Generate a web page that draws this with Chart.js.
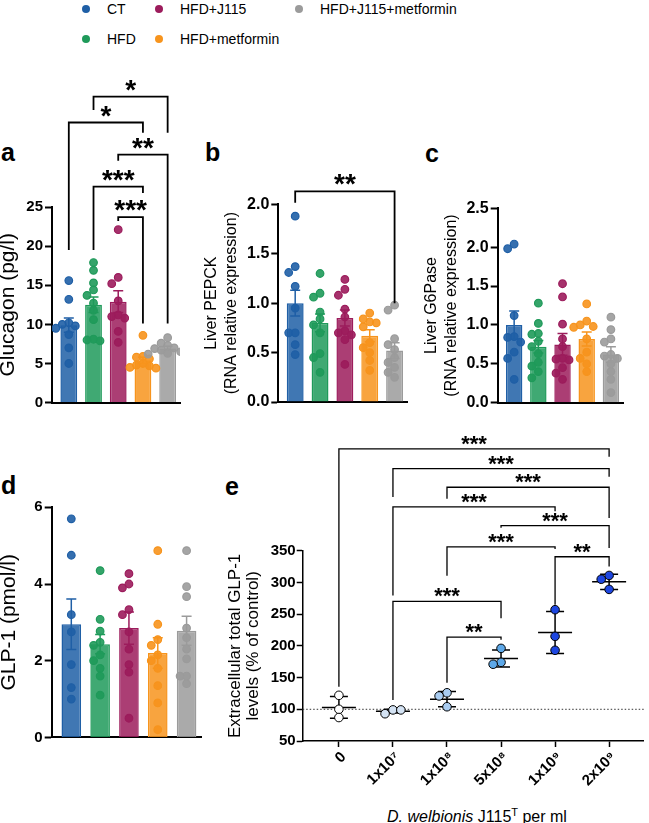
<!DOCTYPE html>
<html>
<head>
<meta charset="utf-8">
<script src="https://cdn.jsdelivr.net/npm/chart.js@4.4.1/dist/chart.umd.min.js"></script>
<style>
  body { margin: 0; background: #fff; width: 649px; height: 823px; position: relative; overflow: hidden;
         font-family: "Liberation Sans", Arial, sans-serif; color: #000; }
  .lab { position: absolute; font-weight: bold; font-size: 25px; line-height: 25px; }
  .lg { position: absolute; font-size: 14px; line-height: 16px; white-space: nowrap; }
  .dot { position: absolute; width: 8px; height: 8px; border-radius: 50%; }
  .xt { position: absolute; font-size: 16px; line-height: 18px; width: 260px; text-align: center; }
  .xl { position: absolute; width: 70px; height: 16px; line-height: 16px; font-size: 15px; font-weight: bold;
        text-align: right; white-space: nowrap; transform-origin: 100% 50%; transform: rotate(-45deg); }
</style>
</head>
<body>
<div class="lab" style="left:1px;top:140px">a</div>
<div class="lab" style="left:205px;top:140px">b</div>
<div class="lab" style="left:425px;top:141px">c</div>
<div class="lab" style="left:1px;top:473px">d</div>
<div class="lab" style="left:225px;top:474px">e</div>
<div class="xt" style="left:347px;top:803px"><i>D. welbionis</i> J115<sup style="font-size:11px">T</sup> per ml</div>

<script>
// groupes et couleurs
const groups = ['CT', 'HFD', 'HFD+J115', 'HFD+metformin', 'HFD+J115+metformin'];
const groupColors = ['#1f5fa6', '#1f9a5a', '#9c1c5c', '#f7941d', '#9b9b9b'];

// a - glucagon (pg/l)
const glucagonMean = [9.9, 12.5, 12.9, 5.4, 6.9];
const glucagonSem = [0.9, 1.0, 1.4, 0.4, 0.3];
const glucagonPts = [
  [15.6, 13.2, 10.2, 10.0, 9.8, 9.5, 8.7, 7.0, 5.0],
  [17.9, 16.9, 15.3, 14.4, 13.7, 12.7, 11.8, 10.6, 8.1, 8.0, 7.9],
  [22.1, 16.0, 15.2, 13.0, 11.2, 11.0, 10.8, 9.1, 7.7],
  [8.6, 5.9, 5.8, 5.6, 5.0, 4.8, 4.7, 4.5, 4.4],
  [8.3, 7.6, 7.3, 7.0, 6.9, 6.7, 6.5, 6.3, 6.2]
];
// [de, a, niveau, bout gauche, bout droit, texte]
const glucagonSig = [
  [1, 4, 39.1, 37.4, 34.5, '*'],
  [0, 3, 35.8, 19.5, 34.5, '*'],
  [2, 4, 31.7, 30.9, 10.1, '**'],
  [1, 3, 27.6, 19.5, 26.8, '***'],
  [2, 3, 23.7, 23.2, 10.1, '***']
];

// b - PEPCK
const pepckMean = [1.0, 0.8, 0.85, 0.67, 0.52];
const pepckSem = [0.13, 0.09, 0.08, 0.06, 0.08];
const pepckPts = [
  [1.88, 1.37, 1.31, 1.17, 0.95, 0.70, 0.70, 0.58, 0.48],
  [1.30, 1.10, 1.06, 0.91, 0.84, 0.78, 0.70, 0.49, 0.45, 0.30],
  [1.24, 1.14, 1.08, 0.94, 0.86, 0.72, 0.70, 0.68, 0.63, 0.38],
  [0.90, 0.84, 0.81, 0.80, 0.76, 0.60, 0.55, 0.50, 0.42, 0.32],
  [0.98, 0.93, 0.64, 0.58, 0.53, 0.45, 0.40, 0.35, 0.30, 0.25]
];
const pepckSig = [[0, 4, 2.13, 2.015, 1.0, '**']];

// c - G6Pase
const g6pMean = [1.0, 0.72, 0.75, 0.82, 0.62];
const g6pSem = [0.18, 0.08, 0.14, 0.09, 0.1];
const g6pPts = [
  [2.04, 1.98, 1.12, 0.85, 0.84, 0.78, 0.65, 0.57, 0.30],
  [1.28, 1.02, 0.89, 0.88, 0.79, 0.72, 0.63, 0.52, 0.47, 0.40, 0.32],
  [1.53, 1.36, 1.01, 0.82, 0.72, 0.57, 0.56, 0.55, 0.45, 0.38, 0.30],
  [1.27, 1.05, 1.00, 0.98, 0.97, 0.82, 0.65, 0.57, 0.50, 0.40],
  [1.10, 0.94, 0.82, 0.78, 0.62, 0.60, 0.57, 0.50, 0.40, 0.30, 0.13]
];

// d - GLP-1 (pmol/l)
const glp1Mean = [2.95, 2.43, 2.85, 2.2, 2.78];
const glp1Sem = [0.66, 0.25, 0.42, 0.4, 0.38];
const glp1Pts = [
  [5.7, 4.75, 3.2, 2.75, 1.9, 1.3, 1.0],
  [4.35, 3.08, 2.77, 2.48, 2.40, 2.15, 2.0, 1.8, 1.6, 1.1],
  [4.27, 4.0, 3.9, 3.33, 3.2, 2.75, 2.3, 1.9, 1.7, 0.5],
  [4.87, 2.95, 2.55, 2.40, 2.15, 2.0, 1.8, 1.35, 0.9, 0.2],
  [4.87, 3.93, 3.67, 2.85, 2.6, 2.3, 2.05, 1.6, 1.6, 1.4]
];

// e - GLP-1 in vitro
const doses = ['0', '1x10\u2077', '1x10\u2078', '5x10\u2078', '1x10\u2079', '2x10\u2079'];
const doseColors = ['#ffffff', '#d4e3f4', '#a9ccf1', '#5da8e8', '#1d46e0', '#1d46e0'];
const glpPts = [[122, 100, 87], [99, 93, 99], [126, 121, 104], [196, 174, 171], [257, 215, 193], [311, 305, 289]];
const glpMean = [103, 97, 116, 180, 221, 301];
const glpSd = [17, 3, 12, 13.5, 33, 12];
const glpSig = [
  [0, 5, 510.6, 135.7, 498, '***'],
  [1, 5, 479.5, 434.8, 466.4, '***'],
  [2, 5, 450, 432, 401.6, '***'],
  [1, 4, 419, 279.4, 412, '***'],
  [3, 5, 389.5, 386, 354.3, '***'],
  [2, 4, 355.9, 310.5, 352.7, '***'],
  [4, 5, 340.5, 264.7, 325.2, '**'],
  [1, 3, 270, 114.7, 243.7, '***'],
  [2, 3, 213.7, 142, 209.5, '**']
];

const FAM = '"Liberation Sans", Arial, sans-serif';

function hexA(hex, a) {
  const n = parseInt(hex.slice(1), 16);
  return `rgba(${(n >> 16) & 255},${(n >> 8) & 255},${n & 255},${a})`;
}

// petit beeswarm : decale les points qui se chevauchent
function swarm(vals, thr, step) {
  const placed = [];
  return vals.map(v => {
    for (const k of [0, -1, 1, -2, 2, -3, 3]) {
      const dx = k * step;
      if (!placed.some(p => Math.abs(p.v - v) < thr && Math.abs(p.dx - dx) < step * 0.99)) {
        placed.push({v, dx});
        return dx;
      }
    }
    return 0;
  });
}

function addCanvas(left, top, w, h) {
  const c = document.createElement('canvas');
  c.width = w; c.height = h;
  c.style.cssText = `position:absolute;left:${left}px;top:${top}px;width:${w}px;height:${h}px`;
  document.body.appendChild(c);
  return c;
}

function bracketPlugin(list, size, lw, lift) {
  return {
    id: 'brackets',
    afterDraw(chart) {
      const {ctx} = chart, x = chart.scales.x, y = chart.scales.y;
      ctx.save();
      ctx.strokeStyle = '#000'; ctx.fillStyle = '#000'; ctx.lineWidth = lw;
      ctx.font = `bold ${size}px ${FAM}`;
      ctx.textAlign = 'center'; ctx.textBaseline = 'alphabetic';
      list.forEach(([a, b, lev, ea, eb, t]) => {
        const xa = x.getPixelForValue(a), xb = x.getPixelForValue(b), yl = y.getPixelForValue(lev);
        ctx.beginPath();
        ctx.moveTo(xa, y.getPixelForValue(ea));
        ctx.lineTo(xa, yl);
        ctx.lineTo(xb, yl);
        ctx.lineTo(xb, y.getPixelForValue(eb));
        ctx.stroke();
        ctx.fillText(t, (xa + xb) / 2, yl + lift);
      });
      ctx.restore();
    }
  };
}

function drawErr(chart, mean, err, colors, cap, mid, lw) {
  const {ctx} = chart, x = chart.scales.x, y = chart.scales.y;
  ctx.save();
  ctx.lineWidth = lw;
  mean.forEach((m, i) => {
    const px = x.getPixelForValue(i);
    const y1 = y.getPixelForValue(m + err[i]), y0 = y.getPixelForValue(m - err[i]), ym = y.getPixelForValue(m);
    ctx.strokeStyle = colors[i];
    ctx.beginPath();
    ctx.moveTo(px, y0); ctx.lineTo(px, y1);
    ctx.moveTo(px - cap, y1); ctx.lineTo(px + cap, y1);
    ctx.moveTo(px - cap, y0); ctx.lineTo(px + cap, y0);
    if (mid) { ctx.moveTo(px - mid, ym); ctx.lineTo(px + mid, ym); }
    ctx.stroke();
  });
  ctx.restore();
}

// panneau a-d : barres + points + erreur
function barPanel(p) {
  const [L, T, R, B] = p.area;
  const cv = addCanvas(p.left, p.top, p.w, p.h);
  const spacing = (R - L) / 5.18;
  const thr = 6.5 * p.max / (B - T);
  const step = 6.5 / spacing;
  const pts = [], fill = [], line = [];
  p.points.forEach((vals, g) => {
    const off = swarm(vals, thr, step);
    vals.forEach((v, k) => {
      pts.push({x: g + off[k], y: v});
      fill.push(hexA(groupColors[g], 0.9));
      line.push(groupColors[g]);
    });
  });
  const plugins = [{
    id: 'err',
    afterDatasetDraw(chart, args) {
      if (args.index === 0) drawErr(chart, p.mean, p.sem, groupColors, 5, 0, 1.5);
    }
  }];
  if (p.sig) plugins.push(bracketPlugin(p.sig, 28, 1.8, 2));
  new Chart(cv, {
    type: 'bar',
    data: {
      datasets: [
        {type: 'bar', data: p.mean.map((m, i) => ({x: i, y: m})),
         backgroundColor: groupColors.map(c => hexA(c, 0.85)), borderColor: groupColors,
         borderWidth: 1.5, barPercentage: 0.68, categoryPercentage: 1, order: 1},
        {type: 'scatter', data: pts, pointBackgroundColor: fill, pointBorderColor: line,
         pointRadius: 3.8, pointBorderWidth: 1.2, order: 0}
      ]
    },
    options: {
      responsive: false, animation: false,
      layout: {padding: {left: 0, top: T - p.top, right: p.left + p.w - R, bottom: p.top + p.h - B - 2}},
      plugins: {legend: {display: false}, tooltip: {enabled: false}},
      scales: {
        x: {type: 'linear', min: -0.68, max: 4.5, offset: false,
            ticks: {display: false}, grid: {display: false},
            border: {color: '#000', width: 2},
            afterFit: s => { s.height = 2; }},
        y: {min: 0, max: p.max,
            ticks: {stepSize: p.step, color: '#000', padding: 2,
                    font: {family: FAM, size: p.tick, weight: 'bold'},
                    callback: p.fmt || (v => v)},
            grid: {drawOnChartArea: false, drawTicks: true, tickLength: 7, tickColor: '#000', tickWidth: 2},
            border: {color: '#000', width: 2},
            title: {display: true, text: p.title, color: '#000', padding: p.tpad,
                    font: {family: FAM, size: p.tsize, lineHeight: p.tlh}},
            afterFit: s => { s.width = L - p.left; }}
      }
    },
    plugins
  });
}

window.addEventListener('load', function () {
  // legende
  const legendPos = [[86, 9], [86, 39], [159, 9], [159, 39], [299, 9]];
  groups.forEach((g, i) => {
    const [x, y] = legendPos[i];
    const d = document.createElement('div');
    d.className = 'dot';
    d.style.cssText += `left:${x - 4}px;top:${y - 4}px;background:${groupColors[i]}`;
    document.body.appendChild(d);
    const t = document.createElement('div');
    t.className = 'lg';
    t.style.cssText += `left:${x + 21}px;top:${y - 8}px`;
    t.textContent = g;
    document.body.appendChild(t);
  });

  barPanel({left: 0, top: 60, w: 190, h: 360, area: [52, 207, 180, 402.6],
            max: 25, step: 5, tick: 15, title: 'Glucagon (pg/l)', tsize: 21, tlh: 1, tpad: -2,
            mean: glucagonMean, sem: glucagonSem, points: glucagonPts, sig: glucagonSig});
  barPanel({left: 200, top: 60, w: 220, h: 360, area: [278.3, 204.3, 407, 402],
            max: 2.0, step: 0.5, tick: 16, fmt: v => v.toFixed(1), tsize: 16, tlh: 1.2, tpad: 2.4,
            title: ['Liver PEPCK', '(RNA relative expression)'],
            mean: pepckMean, sem: pepckSem, points: pepckPts, sig: pepckSig});
  barPanel({left: 420, top: 60, w: 229, h: 360, area: [497.7, 208.3, 623, 402.7],
            max: 2.5, step: 0.5, tick: 16, fmt: v => v.toFixed(1), tsize: 16, tlh: 1.25, tpad: 1.5,
            title: ['Liver G6Pase', '(RNA relative expression)'],
            mean: g6pMean, sem: g6pSem, points: g6pPts});
  barPanel({left: 0, top: 420, w: 210, h: 330, area: [51.7, 507.3, 201, 737.4],
            max: 6, step: 2, tick: 15, title: 'GLP-1 (pmol/l)', tsize: 21, tlh: 1, tpad: -1,
            mean: glp1Mean, sem: glp1Sem, points: glp1Pts});

  // panneau e
  const eL = 220, eT = 420, eW = 429, eH = 380;
  const area = [302.7, 550.7, 648, 741];
  const xAxisH = eT + eH - area[3];
  const spacing = (area[2] - area[0]) / 6.31;
  const step = 8 / spacing, thr = 8 * 300 / (area[3] - area[1]);
  const pts = [], fill = [];
  glpPts.forEach((vals, g) => {
    const off = swarm(vals, thr, step);
    vals.forEach((v, k) => { pts.push({x: g + off[k], y: v}); fill.push(doseColors[g]); });
  });
  const cv = addCanvas(eL, eT, eW, eH);
  const chartE = new Chart(cv, {
    type: 'scatter',
    data: {datasets: [{data: pts, pointBackgroundColor: fill, pointBorderColor: '#000',
                       pointBorderWidth: 1, pointRadius: 4.3}]},
    options: {
      responsive: false, animation: false,
      layout: {padding: {left: 0, top: area[1] - eT, right: eL + eW - area[2], bottom: 0}},
      plugins: {legend: {display: false}, tooltip: {enabled: false}},
      scales: {
        x: {type: 'linear', min: -0.67, max: 5.64,
            afterBuildTicks: s => { s.ticks = doses.map((d, i) => ({value: i})); },
            ticks: {display: false},
            grid: {drawOnChartArea: false, drawTicks: true, tickLength: 6, tickColor: '#000', tickWidth: 1.5},
            border: {color: '#000', width: 1.5},
            afterFit: s => { s.height = xAxisH; }},
        y: {min: 50, max: 350,
            ticks: {stepSize: 50, color: '#000', padding: 1, font: {family: FAM, size: 15, weight: 'bold'}},
            grid: {drawOnChartArea: false, drawTicks: true, tickLength: 6, tickColor: '#000', tickWidth: 1.5},
            border: {color: '#000', width: 1.5},
            title: {display: true, text: ['Extracellular total GLP-1', 'levels (% of control)'],
                    color: '#000', padding: 5.8, font: {family: FAM, size: 17, lineHeight: 1.08}},
            afterFit: s => { s.width = area[0] - eL; }}
      }
    },
    plugins: [{
      id: 'ref',
      beforeDatasetsDraw(chart) {
        const {ctx, chartArea} = chart, y = chart.scales.y.getPixelForValue(100);
        ctx.save();
        ctx.strokeStyle = '#333'; ctx.lineWidth = 1; ctx.setLineDash([1.5, 2]);
        ctx.beginPath(); ctx.moveTo(chartArea.left, y); ctx.lineTo(chartArea.right, y); ctx.stroke();
        ctx.restore();
        drawErr(chart, glpMean, glpSd, doses.map(() => '#000'), 9, 17, 1.5);
      }
    }, bracketPlugin(glpSig, 22, 1.3, 2)]
  });

  // etiquettes x inclinees a 45 degres (texte HTML place sur l'echelle du graphique)
  const xs = chartE.scales.x, bottom = chartE.chartArea.bottom;
  doses.forEach((d, i) => {
    const ax = eL + xs.getPixelForValue(i) + 4, ay = eT + bottom + 13;
    const t = document.createElement('div');
    t.className = 'xl';
    t.style.left = (ax - 70) + 'px';
    t.style.top = (ay - 8) + 'px';
    t.textContent = d;
    document.body.appendChild(t);
  });
});
</script>
</body>
</html>
